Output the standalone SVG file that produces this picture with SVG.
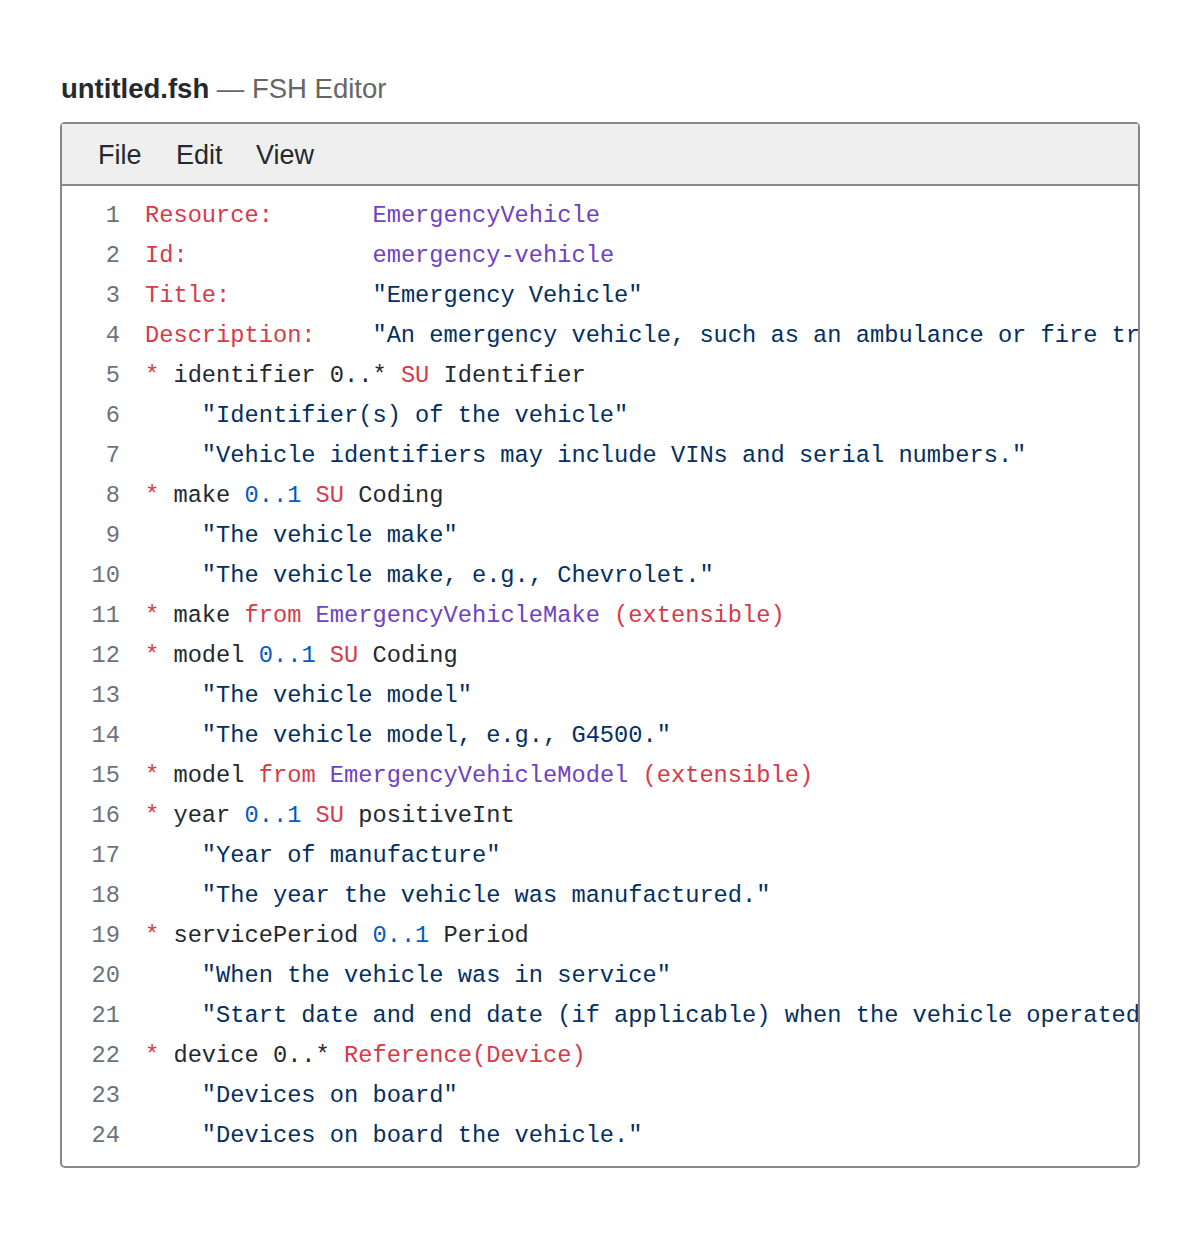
<svg xmlns="http://www.w3.org/2000/svg" width="1200" height="1236" viewBox="0 0 1200 1236">
<style>
.c{font-family:"Liberation Mono",monospace;font-size:23.7px;fill:#24292e;white-space:pre}
.n{font-family:"Liberation Mono",monospace;font-size:23.7px;fill:#6a737d;text-anchor:end}
.r{fill:#d73a49}.p{fill:#6f42c1}.b{fill:#005cc5}.s{fill:#032f62}
.m{font-family:"Liberation Sans",Arial,sans-serif;font-size:27px;fill:#24292e}
</style>
<defs><clipPath id="cl"><rect x="62" y="186" width="1076" height="980"/></clipPath></defs>
<rect width="1200" height="1236" fill="#fff"/>
<g id="title"><text x="61" y="98" class="m" style="font-weight:bold;font-size:27.5px">untitled.fsh<tspan style="font-weight:normal;fill:#666"> — FSH Editor</tspan></text></g>
<g id="window">
<rect x="61" y="123" width="1078" height="1044" rx="4" fill="#fff" stroke="#888" stroke-width="2"/>
<path d="M62 124h1076v61H62z" fill="#efefef"/>
<line x1="62" y1="185" x2="1138" y2="185" stroke="#888" stroke-width="2"/>
<text x="98" y="164" class="m">File</text><text x="176" y="164" class="m">Edit</text><text x="256" y="164" class="m">View</text>
</g>
<g id="nums">
<text class="n" x="120" y="222">1</text><text class="n" x="120" y="262">2</text><text class="n" x="120" y="302">3</text><text class="n" x="120" y="342">4</text><text class="n" x="120" y="382">5</text><text class="n" x="120" y="422">6</text><text class="n" x="120" y="462">7</text><text class="n" x="120" y="502">8</text><text class="n" x="120" y="542">9</text><text class="n" x="120" y="582">10</text><text class="n" x="120" y="622">11</text><text class="n" x="120" y="662">12</text><text class="n" x="120" y="702">13</text><text class="n" x="120" y="742">14</text><text class="n" x="120" y="782">15</text><text class="n" x="120" y="822">16</text><text class="n" x="120" y="862">17</text><text class="n" x="120" y="902">18</text><text class="n" x="120" y="942">19</text><text class="n" x="120" y="982">20</text><text class="n" x="120" y="1022">21</text><text class="n" x="120" y="1062">22</text><text class="n" x="120" y="1102">23</text><text class="n" x="120" y="1142">24</text>
</g>
<g id="code" clip-path="url(#cl)" xml:space="preserve">
<text class="c" x="145" y="222"><tspan class="r">Resource:</tspan>       <tspan class="p">EmergencyVehicle</tspan></text>
<text class="c" x="145" y="262"><tspan class="r">Id:</tspan>             <tspan class="p">emergency-vehicle</tspan></text>
<text class="c" x="145" y="302"><tspan class="r">Title:</tspan>          <tspan class="s">"Emergency Vehicle"</tspan></text>
<text class="c" x="145" y="342"><tspan class="r">Description:</tspan>    <tspan class="s">"An emergency vehicle, such as an ambulance or fire truck."</tspan></text>
<text class="c" x="145" y="382"><tspan class="r">*</tspan> identifier 0..* <tspan class="r">SU</tspan> Identifier</text>
<text class="c s" x="145" y="422">    "Identifier(s) of the vehicle"</text>
<text class="c s" x="145" y="462">    "Vehicle identifiers may include VINs and serial numbers."</text>
<text class="c" x="145" y="502"><tspan class="r">*</tspan> make <tspan class="b">0..1</tspan> <tspan class="r">SU</tspan> Coding</text>
<text class="c s" x="145" y="542">    "The vehicle make"</text>
<text class="c s" x="145" y="582">    "The vehicle make, e.g., Chevrolet."</text>
<text class="c" x="145" y="622"><tspan class="r">*</tspan> make <tspan class="r">from</tspan> <tspan class="p">EmergencyVehicleMake</tspan> <tspan class="r">(extensible)</tspan></text>
<text class="c" x="145" y="662"><tspan class="r">*</tspan> model <tspan class="b">0..1</tspan> <tspan class="r">SU</tspan> Coding</text>
<text class="c s" x="145" y="702">    "The vehicle model"</text>
<text class="c s" x="145" y="742">    "The vehicle model, e.g., G4500."</text>
<text class="c" x="145" y="782"><tspan class="r">*</tspan> model <tspan class="r">from</tspan> <tspan class="p">EmergencyVehicleModel</tspan> <tspan class="r">(extensible)</tspan></text>
<text class="c" x="145" y="822"><tspan class="r">*</tspan> year <tspan class="b">0..1</tspan> <tspan class="r">SU</tspan> positiveInt</text>
<text class="c s" x="145" y="862">    "Year of manufacture"</text>
<text class="c s" x="145" y="902">    "The year the vehicle was manufactured."</text>
<text class="c" x="145" y="942"><tspan class="r">*</tspan> servicePeriod <tspan class="b">0..1</tspan> Period</text>
<text class="c s" x="145" y="982">    "When the vehicle was in service"</text>
<text class="c s" x="145" y="1022">    "Start date and end date (if applicable) when the vehicle operated."</text>
<text class="c" x="145" y="1062"><tspan class="r">*</tspan> device 0..* <tspan class="r">Reference(Device)</tspan></text>
<text class="c s" x="145" y="1102">    "Devices on board"</text>
<text class="c s" x="145" y="1142">    "Devices on board the vehicle."</text>
</g>
</svg>
